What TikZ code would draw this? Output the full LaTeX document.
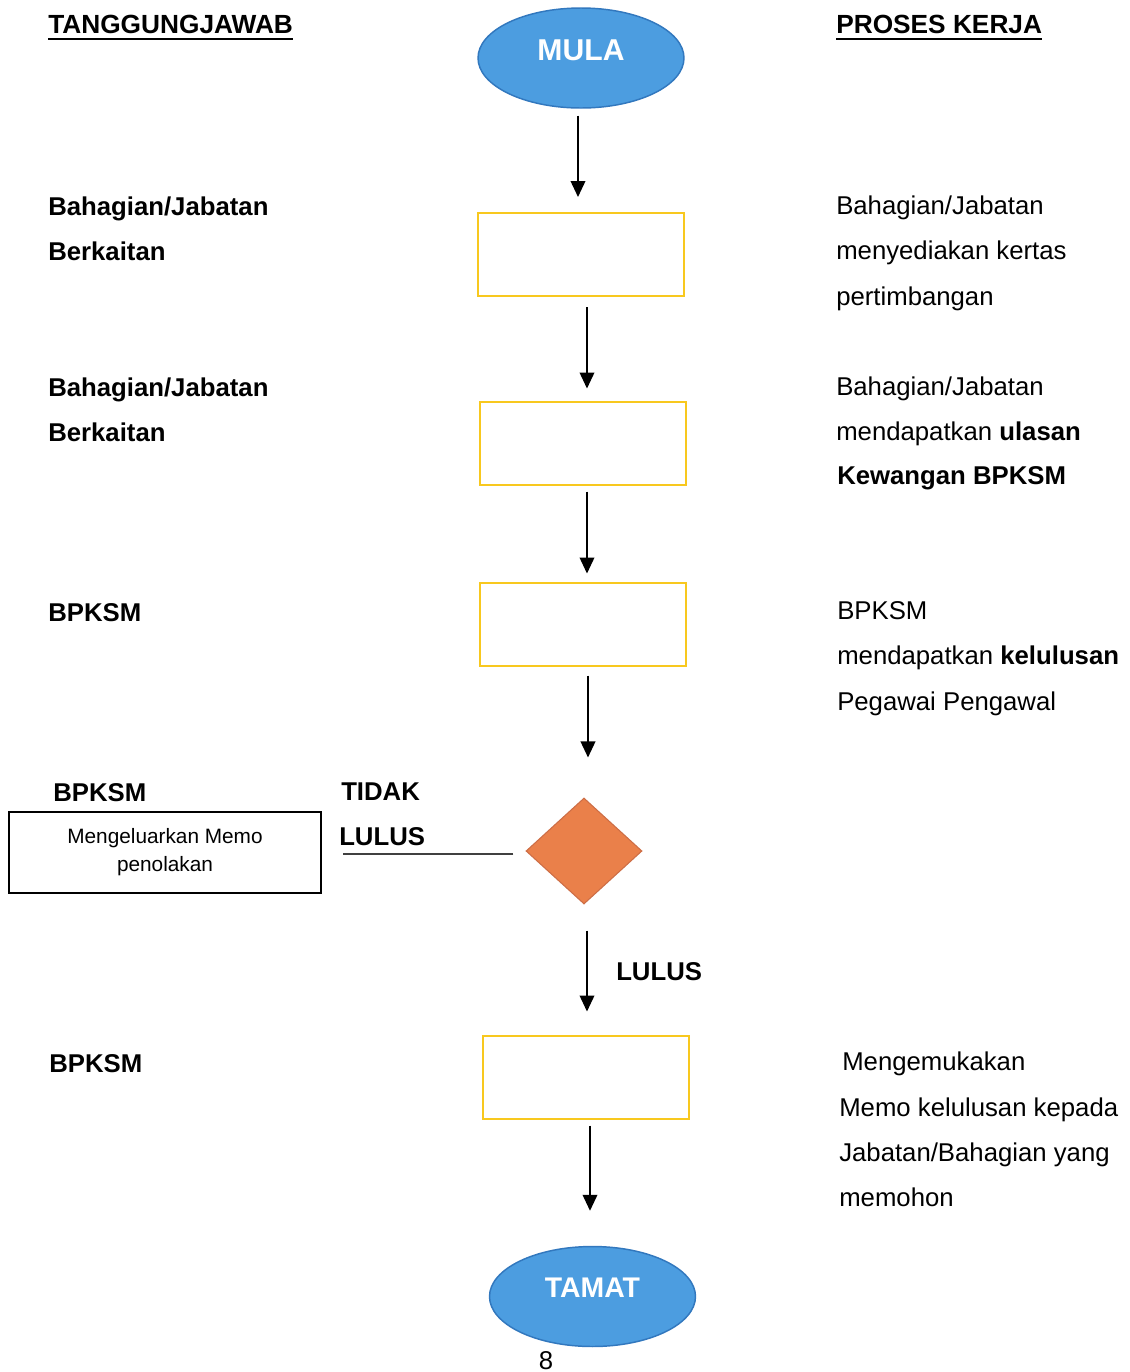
\documentclass[tikz,border=0pt]{standalone}
\usepackage{fontspec}
\setmainfont{Liberation Sans}
\usetikzlibrary{shapes.geometric,arrows.meta,calc}
\definecolor{bluefill}{RGB}{76,157,224}
\definecolor{blueline}{RGB}{50,120,190}
\definecolor{boxyellow}{RGB}{248,200,30}
\definecolor{diafill}{RGB}{234,128,74}
\definecolor{dialine}{RGB}{205,110,70}
\newcommand\txtsz{\fontsize{19.3pt}{23pt}\selectfont}
\newcommand\hdrsz{\fontsize{19.7pt}{23pt}\selectfont}
\newcommand\memosz{\fontsize{15.6pt}{21pt}\selectfont}
\begin{document}
\begin{tikzpicture}[x=0.75pt,y=-0.75pt,
  startend/.style={ellipse, draw=blueline, line width=1.1pt, fill=bluefill,
    minimum width=154.5pt, minimum height=75pt, inner sep=0pt},
  procbox/.style={rectangle, draw=boxyellow, line width=1.5pt, fill=white,
    minimum width=154.5pt, minimum height=62.25pt, inner sep=0pt},
  decision/.style={diamond, draw=dialine, line width=0.8pt, fill=diafill,
    minimum width=87pt, minimum height=79.5pt, inner sep=0pt, aspect=1.094},
  memobox/.style={rectangle, draw=black, line width=1.5pt,
    minimum width=234pt, minimum height=60.75pt, align=center, font=\memosz, inner sep=0pt},
  arr/.style={-{Triangle[width=11pt,length=12pt]}, line width=1.2pt},
  lbl/.style={anchor=base west, inner sep=0pt, font=\txtsz},
  blbl/.style={anchor=base west, inner sep=0pt, font=\txtsz\bfseries},
  setext/.style={text=white, font=\bfseries\fontsize{22.6pt}{26pt}\selectfont, inner sep=0pt}
]
\useasboundingbox (0,0) rectangle (1130,1372);

% headers
\node[blbl, font=\hdrsz\bfseries] (hdrL) at (48,33) {TANGGUNGJAWAB};
\node[blbl, font=\hdrsz\bfseries] (hdrR) at (836,33) {PROSES KERJA};
\draw[line width=1.5pt] ($(hdrL.base west)+(0,6)$) -- ($(hdrL.base east)+(0,6)$);
\draw[line width=1.5pt] ($(hdrR.base west)+(0,6)$) -- ($(hdrR.base east)+(0,6)$);

% flow nodes
\node[startend, label={[setext, yshift=5.6pt]center:MULA}] (mula) at (581,58) {};
\node[procbox] (b1) at (581,254.5) {};
\node[procbox] (b2) at (583,443) {};
\node[procbox] (b3) at (582.5,624) {};
\node[decision] (dia) at (584,851) {};
\node[procbox] (b4) at (585.5,1077) {};
\node[startend, label={[setext, font=\bfseries\fontsize{21.3pt}{25pt}\selectfont, yshift=6.8pt]center:TAMAT}] (tamat) at (592.5,1296.5) {};
\node[memobox] (memo) at (165,852.5) {Mengeluarkan Memo\\penolakan};

% arrows
\draw[arr] ($(mula.south)+(-3,7)$) -- ($(b1.north)+(-3,-15)$);
\draw[arr] ($(b1.south)+(6,10)$) -- ($(b2.north)+(4,-12)$);
\draw[arr] ($(b2.south)+(4,6)$) -- ($(b3.north)+(4.5,-8)$);
\draw[arr] ($(b3.south)+(5.5,9)$) -- ($(dia.north)+(4,-40)$);
\draw[arr] ($(dia.south)+(3,26)$) -- ($(b4.north)+(1.5,-23)$);
\draw[arr] ($(b4.south)+(4.5,6)$) -- ($(tamat.north)+(-2.5,-35)$);
\draw[line width=0.8pt, black!75] ($(dia.west)+(-12,3)$) -- ($(memo.east)+(21,1.5)$);

% decision labels
\node[blbl] (tidak) at (341,800) {TIDAK};
\node[blbl] (lulusL) at (339,845) {LULUS};
\node[blbl] (lulusD) at (616,980) {LULUS};

% left column
\node[blbl] (l1a) at (48,215) {Bahagian/Jabatan};
\node[blbl] (l1b) at (48,260) {Berkaitan};
\node[blbl] (l2a) at (48,396) {Bahagian/Jabatan};
\node[blbl] (l2b) at (48,441) {Berkaitan};
\node[blbl] (l3) at (48,621) {BPKSM};
\node[blbl] (l4) at (53,801) {BPKSM};
\node[blbl] (l5) at (49,1072) {BPKSM};

% right column
\node[lbl] (r1a) at (836,214) {Bahagian/Jabatan};
\node[lbl] (r1b) at (836,259.5) {menyediakan kertas};
\node[lbl] (r1c) at (836,305) {pertimbangan};
\node[lbl] (r2a) at (836,395) {Bahagian/Jabatan};
\node[lbl] (r2b) at (836,440) {mendapatkan \textbf{ulasan}};
\node[blbl] (r2c) at (837,484) {Kewangan BPKSM};
\node[lbl] (r3a) at (837,619) {BPKSM};
\node[lbl] (r3b) at (837,664) {mendapatkan \textbf{kelulusan}};
\node[lbl] (r3c) at (837,710) {Pegawai Pengawal};
\node[lbl] (r4a) at (842,1070) {Mengemukakan};
\node[lbl] (r4b) at (839,1116) {Memo kelulusan kepada};
\node[lbl] (r4c) at (839,1161) {Jabatan/Bahagian yang};
\node[lbl] (r4d) at (839,1206) {memohon};

% page number
\node[anchor=base, inner sep=0pt, font=\txtsz] (pg) at (546,1369) {8};
\end{tikzpicture}
\end{document}
